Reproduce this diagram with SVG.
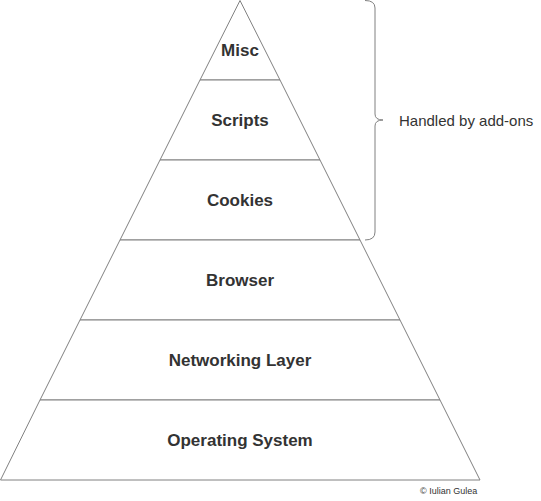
<svg xmlns="http://www.w3.org/2000/svg" width="541" height="501" viewBox="0 0 541 501">
<style>
.lvl{fill:#fff;stroke:#808080;stroke-width:1}
.lbl{font-family:"Liberation Sans",Arial,sans-serif;font-size:17px;font-weight:bold;fill:#333;text-anchor:middle}
.note{font-family:"Liberation Sans",Arial,sans-serif;font-size:15px;fill:#333}
.copy{font-family:"Liberation Sans",Arial,sans-serif;font-size:9px;fill:#333}
</style>
<rect width="541" height="501" fill="#fff"/>
<g id="misc"><path class="lvl" d="M240,0.5 L280,80 L200,80 Z"/><text class="lbl" x="240" y="56">Misc</text></g>
<g id="scripts"><path class="lvl" d="M200,80 L280,80 L320,160 L160,160 Z"/><text class="lbl" x="240" y="126">Scripts</text></g>
<g id="cookies"><path class="lvl" d="M160,160 L320,160 L360,240 L120,240 Z"/><text class="lbl" x="240" y="206">Cookies</text></g>
<g id="browser"><path class="lvl" d="M120,240 L360,240 L400,320 L80,320 Z"/><text class="lbl" x="240" y="286">Browser</text></g>
<g id="networking"><path class="lvl" d="M80,320 L400,320 L440,400 L40,400 Z"/><text class="lbl" x="240" y="366">Networking Layer</text></g>
<g id="os"><path class="lvl" d="M40,400 L440,400 L480,480 L0.5,480 Z"/><text class="lbl" x="240" y="446">Operating System</text></g>
<g id="addons">
<path d="M365,0.5 Q375,0.5 375,8 L375,114 Q375,120 383,120 Q375,120 375,126 L375,232 Q375,240 365,240" fill="none" stroke="#808080" stroke-width="1"/>
<text class="note" x="399" y="126">Handled by add-ons</text>
</g>
<g id="connectors"></g>
<text class="copy" x="420" y="494">© Iulian Gulea</text>
</svg>
